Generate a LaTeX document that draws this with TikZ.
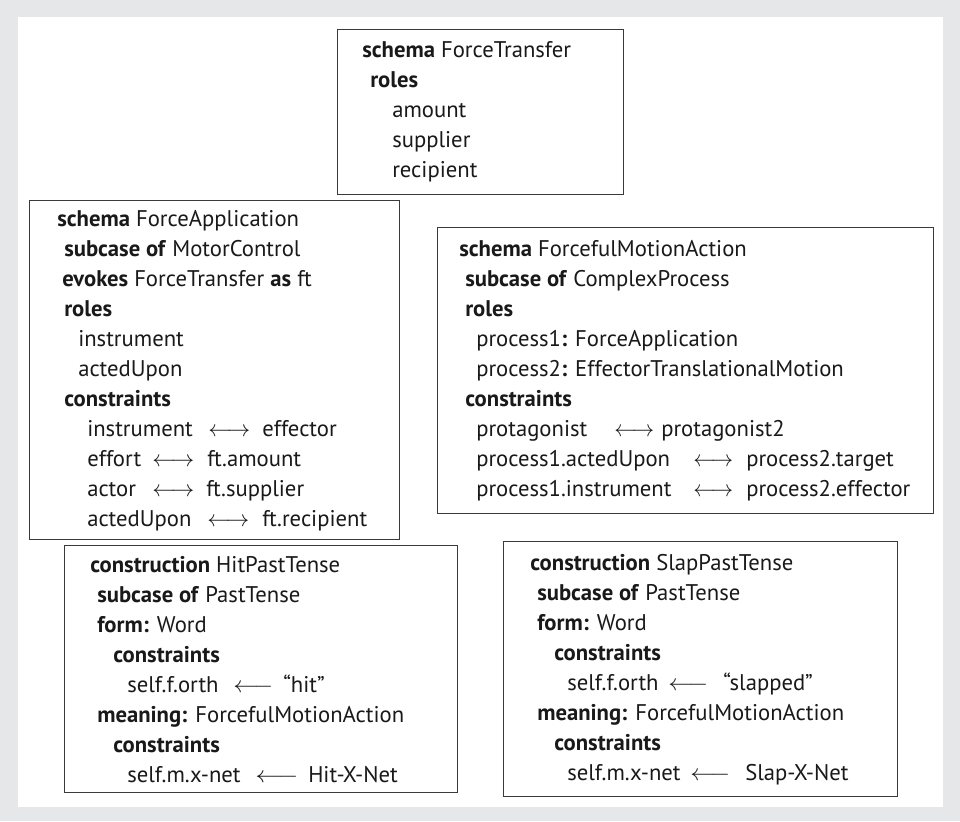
\documentclass[tikz,border=0pt]{standalone}
\usepackage{fontspec}
\setmainfont{PT Sans}
\usepackage{graphicx}

% one drawing unit = one pixel of the 960 x 821 sheet
\newdimen\pxu \pxu=0.75pt
\newcommand\myind[1]{\hspace*{#1\pxu}}
% constraint row with a two-headed arrow: {left width}{left}{arrow width}{gap}{right}
\newcommand\bindrow[5]{\makebox[#1\pxu][l]{#2}\resizebox{#3\pxu}{\height}{$\longleftrightarrow$}\hspace*{#4\pxu}#5}
% constraint row with a left arrow
\newcommand\assignrow[5]{\makebox[#1\pxu][l]{#2}\resizebox{#3\pxu}{\height}{$\longleftarrow$}\hspace*{#4\pxu}#5}

\definecolor{pagegray}{HTML}{E6E7E8}
\definecolor{boxline}{HTML}{3A3A3A}

\tikzset{
  schemabox/.style={draw=boxline, line width=1.1pt, fill=white, anchor=north west,
    inner sep=0pt, rectangle},
  body/.style={anchor=west, inner sep=0pt, align=left, text=black!90,
    font=\fontsize{17}{22.5}\selectfont},
}

\begin{document}
\begin{tikzpicture}[x=0.75pt, y=-0.75pt]
  \useasboundingbox (0,0) rectangle (960,821);
  \fill[pagegray] (0,0) rectangle (960,821);
  \fill[white] (18,17) rectangle (943,807);

  % schema ForceTransfer
  \node[schemabox, minimum width=286\pxu, minimum height=165\pxu] (ft) at (337,29) {};
  \node[body] (ftbody) at ([xshift=25\pxu]ft.west) {%
    \textbf{schema} ForceTransfer\\
    \myind{8}\textbf{roles}\\
    \myind{30}amount\\
    \myind{30}supplier\\
    \myind{30}recipient};

  % schema ForceApplication
  \node[schemabox, minimum width=370\pxu, minimum height=339\pxu] (fa) at (29,200) {};
  \node[body] (fabody) at ([xshift=28\pxu]fa.west) {%
    \textbf{schema} ForceApplication\\
    \myind{7}\textbf{subcase of} MotorControl\\
    \myind{5}\textbf{evokes} ForceTransfer \textbf{as} ft\\
    \myind{7}\textbf{roles}\\
    \myind{21}instrument\\
    \myind{21}actedUpon\\
    \myind{7}\textbf{constraints}\\
    \myind{30}\bindrow{121}{instrument}{42}{12}{effector}\\
    \myind{30}\bindrow{65}{effort}{42}{13}{ft.amount}\\
    \myind{30}\bindrow{65}{actor}{42}{12}{ft.supplier}\\
    \myind{30}\bindrow{120}{actedUpon}{42}{13}{ft.recipient}};

  % schema ForcefulMotionAction
  \node[schemabox, minimum width=496\pxu, minimum height=286\pxu] (fma) at (437,227) {};
  \node[body] (fmabody) at ([xshift=22\pxu]fma.west) {%
    \textbf{schema} ForcefulMotionAction\\
    \myind{6}\textbf{subcase of} ComplexProcess\\
    \myind{6}\textbf{roles}\\
    \myind{17}process1\textbf{:} ForceApplication\\
    \myind{17}process2\textbf{:} EffectorTranslationalMotion\\
    \myind{6}\textbf{constraints}\\
    \myind{17}\bindrow{138}{protagonist}{40}{7}{protagonist2}\\
    \myind{17}\bindrow{217}{process1.actedUpon}{40}{13}{process2.target}\\
    \myind{17}\bindrow{217}{process1.instrument}{40}{13}{process2.effector}};

  % construction HitPastTense
  \node[schemabox, minimum width=393\pxu, minimum height=247\pxu] (hit) at (64,545) {};
  \node[body] (hitbody) at ([xshift=26\pxu]hit.west) {%
    \textbf{construction} HitPastTense\\
    \myind{7}\textbf{subcase of} PastTense\\
    \myind{7}\textbf{form:} Word\\
    \myind{23}\textbf{constraints}\\
    \myind{37}\assignrow{106}{self.f.orth}{40}{10}{“hit”}\\
    \myind{7}\textbf{meaning:} ForcefulMotionAction\\
    \myind{23}\textbf{constraints}\\
    \myind{37}\assignrow{128}{self.m.x-net}{43}{10}{Hit-X-Net}};

  % construction SlapPastTense
  \node[schemabox, minimum width=394\pxu, minimum height=255\pxu] (slap) at (503,541) {};
  \node[body] (slapbody) at ([xshift=27\pxu]slap.west) {%
    \textbf{construction} SlapPastTense\\
    \myind{7}\textbf{subcase of} PastTense\\
    \myind{7}\textbf{form:} Word\\
    \myind{24}\textbf{constraints}\\
    \myind{37}\assignrow{101}{self.f.orth}{40}{15}{“slapped”}\\
    \myind{7}\textbf{meaning:} ForcefulMotionAction\\
    \myind{24}\textbf{constraints}\\
    \myind{37}\assignrow{123}{self.m.x-net}{40}{15}{Slap-X-Net}};
\end{tikzpicture}
\end{document}
